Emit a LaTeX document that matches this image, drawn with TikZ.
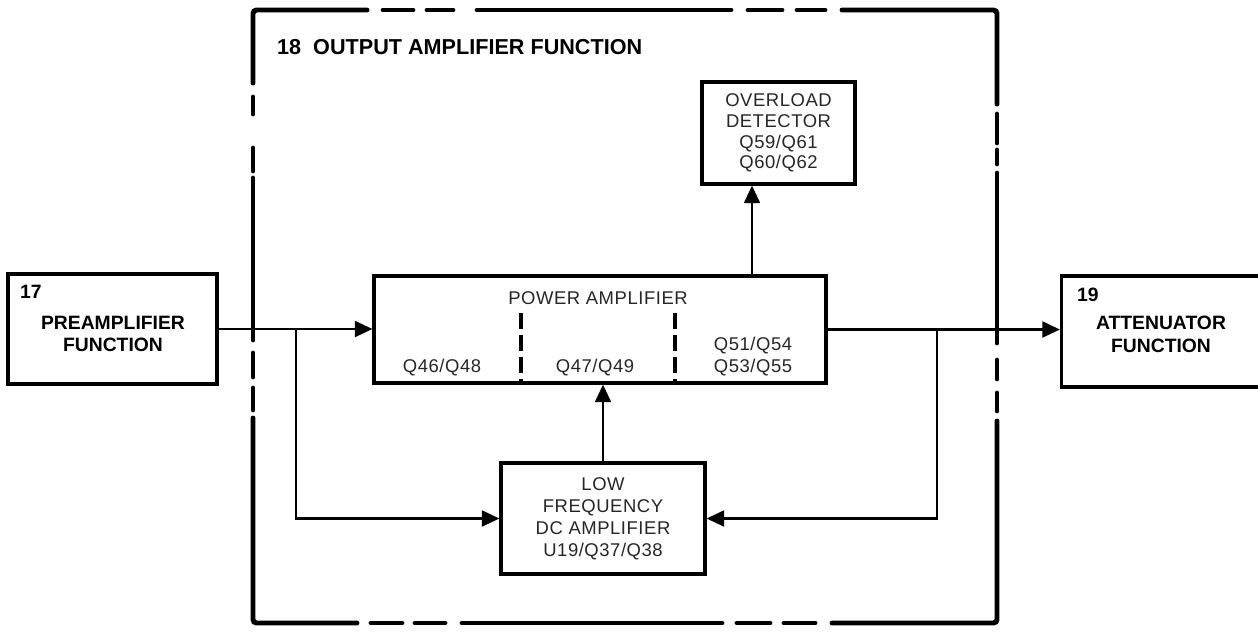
\documentclass[tikz,border=0pt]{standalone}
\usepackage{fontspec}
\setmainfont{Liberation Sans}
\newfontfamily\labfont[LetterSpace=3]{Liberation Sans}
\usetikzlibrary{arrows.meta}

\begin{document}
\begin{tikzpicture}[x=0.02cm, y=-0.02cm,
	frame/.style={line width=2.8pt, line cap=round},
	fnbox/.style={draw, rectangle, line width=1.8pt, inner sep=0pt},
	wire/.style={line width=1.5pt},
	arr/.style={wire, -{Triangle[length=10pt,width=9pt]}},
	bold/.style={font=\fontsize{11}{13}\selectfont\bfseries, align=center},
	titletxt/.style={font=\fontsize{12.3}{14}\selectfont\bfseries},
	thin/.style={font=\labfont\fontsize{10.5}{12.5}\selectfont, text=black!85, align=center},
	divider/.style={line width=1.8pt, dash pattern=on 9pt off 3.5pt}]
\useasboundingbox (0,0) rectangle (1258,633);
\clip (0,0) rectangle (1258,633);
% dashed frame of function 18
\draw[frame, rounded corners=2pt] (367,10) -| (253,83);
\draw[frame, rounded corners=2pt] (842,10) -| (997,104);
\draw[frame, rounded corners=2pt] (253,418) |- (357,623);
\draw[frame, rounded corners=2pt] (997,421) |- (832,623);
\foreach \a/\b in {383/413,427/453,477/731,748/782,797/825}
	\draw[frame] (\a,10) -- (\b,10);
\foreach \a/\b in {371/402,415/445,462/722,737/770,784/815}
	\draw[frame] (\a,623) -- (\b,623);
\foreach \a/\b in {97/114,148/171,178/340,353/377,388/410}
	\draw[frame] (253,\a) -- (253,\b);
\foreach \a/\b in {114/143,150/164,173/343,360/379,393/411}
	\draw[frame] (997,\a) -- (997,\b);
\node[titletxt, anchor=west] (title) at (271,47) {18\ \ OUTPUT AMPLIFIER FUNCTION};

\node[fnbox, minimum width=4.18cm, minimum height=2.2cm] (pre) at (112.5,329) {};
\node[bold, anchor=west] (prenum) at (14,292) {17};
\node[bold] (pretxt) at (113,334) {PREAMPLIFIER\\FUNCTION};

\node[fnbox, minimum width=4.3cm, minimum height=2.22cm] (att) at (1169,331.5) {};
\node[bold, anchor=west] (attnum) at (1071,295) {19};
\node[bold] (atttxt) at (1161,334) {ATTENUATOR\\FUNCTION};

\node[fnbox, minimum width=9.04cm, minimum height=2.14cm] (pa) at (600,329.5) {};
\node[thin] (patitle) at (598,298) {POWER AMPLIFIER};
\node[thin] (paqa) at (442,368) {Q46/Q48};
\node[thin] (paqb) at (595,368) {Q47/Q49};
\node[thin] (paqc) at (753,357) {Q51/Q54\\Q53/Q55};
\foreach \x in {521,675}
	\draw[divider] (\x,313) -- (\x,383);

\node[fnbox, thin, font=\labfont\fontsize{10.5}{11.8}\selectfont, minimum width=3.06cm, minimum height=2.04cm] (ovl) at (778.5,133) {OVERLOAD\\DETECTOR\\Q59/Q61\\Q60/Q62};
\node[fnbox, thin, minimum width=4.08cm, minimum height=2.22cm] (dc) at (603,518.5) {LOW\\FREQUENCY\\DC AMPLIFIER\\U19/Q37/Q38};

\coordinate (inbr) at (296,0);
\coordinate (outbr) at (937,0);
\coordinate (ovtap) at (752,0);
\draw[arr] (pre.east) -- (pre.east -| pa.west);
\draw[arr] (pre.east -| inbr) |- (dc.west);
\draw[arr] (pa.east) -- (pa.east -| att.west);
\draw[arr] (pa.east -| outbr) |- (dc.east);
\draw[arr] (dc.north) -- (dc.north |- pa.south);
\draw[arr] (pa.north -| ovtap) -- (ovl.south -| ovtap);
\end{tikzpicture}
\end{document}
